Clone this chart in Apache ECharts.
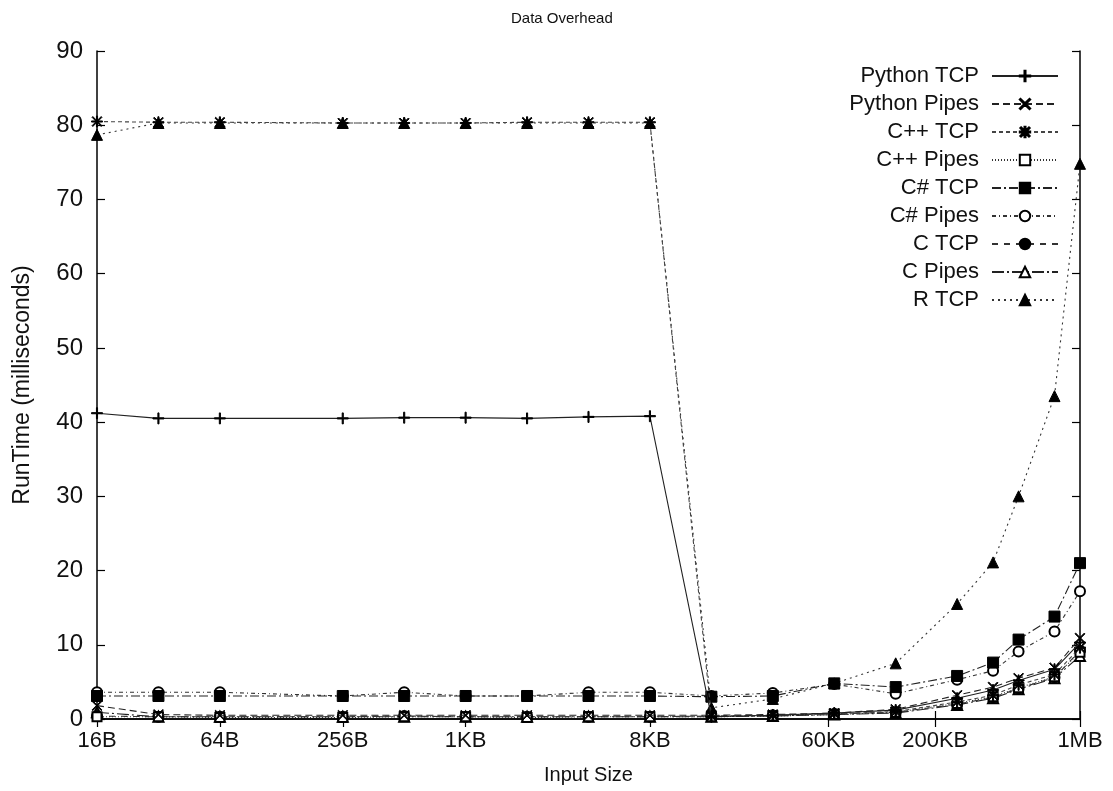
<!DOCTYPE html>
<html>
<head>
<meta charset="utf-8">
<script src="https://cdn.jsdelivr.net/npm/echarts@6/dist/echarts.min.js"></script>
<style>
html,body{margin:0;padding:0;background:#fff;}
#chart{width:1113px;height:791px;}
</style>
</head>
<body>
<div id="chart"></div>
<script>
// Input sizes in bytes (x axis, log base 2)
const sizes = [16, 32, 64, 256, 512, 1024, 2048, 4096, 8192, 16384, 32768, 65536, 131072, 262144, 393216, 524288, 786432, 1048576];
// Tick positions and labels on the x axis
const tickValues = [16, 64, 256, 1024, 8192, 61440, 204800, 1048576];
const tickLabels = ['16B', '64B', '256B', '1KB', '8KB', '60KB', '200KB', '1MB'];

const seriesNames = ['Python TCP', 'Python Pipes', 'C++ TCP', 'C++ Pipes', 'C# TCP', 'C# Pipes', 'C TCP', 'C Pipes', 'R TCP'];

const pythonTcp   = [41.2, 40.5, 40.5, 40.5, 40.6, 40.6, 40.5, 40.7, 40.8, 0.3, 0.5, 0.8, 1.2, 2.8, 3.9, 5.2, 6.7, 10.3];
const pythonPipes = [1.8, 0.6, 0.5, 0.5, 0.5, 0.5, 0.5, 0.5, 0.5, 0.5, 0.6, 0.8, 1.3, 3.2, 4.3, 5.5, 6.9, 10.9];
const cppTcp      = [80.5, 80.4, 80.4, 80.3, 80.3, 80.3, 80.4, 80.4, 80.4, 0.4, 0.5, 0.7, 1.0, 2.3, 3.2, 4.6, 6.0, 9.6];
const cppPipes    = [0.3, 0.3, 0.2, 0.2, 0.3, 0.3, 0.2, 0.3, 0.3, 0.3, 0.4, 0.6, 0.9, 2.1, 3.0, 4.2, 5.7, 9.0];
const csTcp       = [3.1, 3.1, 3.1, 3.1, 3.1, 3.1, 3.1, 3.1, 3.1, 3.0, 3.1, 4.8, 4.3, 5.8, 7.6, 10.7, 13.8, 21.0];
const csPipes     = [3.6, 3.6, 3.6, 3.1, 3.6, 3.1, 3.1, 3.6, 3.6, 3.1, 3.5, 4.7, 3.4, 5.3, 6.5, 9.1, 11.8, 17.2];
const cTcp        = [0.4, 0.3, 0.3, 0.3, 0.4, 0.3, 0.3, 0.3, 0.3, 0.4, 0.5, 0.7, 0.9, 2.0, 2.9, 4.1, 5.6, 9.2];
const cPipes      = [0.9, 0.3, 0.3, 0.3, 0.3, 0.3, 0.3, 0.3, 0.3, 0.3, 0.4, 0.6, 0.8, 1.9, 2.8, 4.0, 5.5, 8.5];
const rTcp        = [78.7, 80.3, 80.3, 80.3, 80.3, 80.3, 80.3, 80.3, 80.3, 1.5, 2.7, 4.8, 7.5, 15.5, 21.1, 30.0, 43.5, 74.8];

const allValues = [pythonTcp, pythonPipes, cppTcp, cppPipes, csTcp, csPipes, cTcp, cPipes, rTcp];

const PLUS = 'path://M4.5,0H5.5V4.5H10V5.5H5.5V10H4.5V5.5H0V4.5H4.5Z';
const CROSS = 'path://M0,0.7L0.7,0L5,4.3L9.3,0L10,0.7L5.7,5L10,9.3L9.3,10L5,5.7L0.7,10L0,9.3L4.3,5Z';
const STAR = 'path://M4.5,0H5.5V4.5H10V5.5H5.5V10H4.5V5.5H0V4.5H4.5Z M1.2,0.5L5,4.3L8.8,0.5L9.5,1.2L5.7,5L9.5,8.8L8.8,9.5L5,5.7L1.2,9.5L0.5,8.8L4.3,5L0.5,1.2Z';

const symbols = [PLUS, CROSS, STAR, 'emptyRect', 'rect', 'emptyCircle', 'circle', 'emptyTriangle', 'triangle'];
const symbolSizes = [11, 10, 11, 9, 11, 10, 11, 10, 11];
const dashes = ['solid', [7, 4], [4, 3], [1, 2], [9, 3, 2, 3], [4, 3, 1, 3], [6, 6], [12, 3, 2, 3], [2, 4]];
const lineColors = ['#222', '#222', '#444', '#333', '#222', '#333', '#333', '#222', '#333'];

const FONT = 'Liberation Sans, Arial, Helvetica, sans-serif';

function fmtX(v) {
  for (let i = 0; i < tickValues.length; i++) {
    if (Math.abs(v - tickValues[i]) / tickValues[i] < 1e-6) return tickLabels[i];
  }
  return '';
}

const series = seriesNames.map((name, i) => ({
  name: name,
  type: 'line',
  data: sizes.map((s, j) => [s, allValues[i][j]]),
  symbol: symbols[i],
  symbolSize: symbolSizes[i],
  showAllSymbol: true,
  lineStyle: { color: lineColors[i], width: 1.1, type: dashes[i] },
  itemStyle: { color: '#000', borderColor: '#000', borderWidth: 1 },
  emphasis: { disabled: true },
  animation: false,
  z: 10 - i
}));

const chart = echarts.init(document.getElementById('chart'), null, { renderer: 'canvas' });

const xCommon = {
  type: 'log',
  logBase: 2,
  min: 16,
  max: 1048576,
  splitLine: { show: false },
  minorTick: { show: false },
  axisLine: { show: true, lineStyle: { color: '#000', width: 1.5 } }
};

chart.setOption({
  animation: false,
  backgroundColor: '#fff',
  title: {
    text: 'Data Overhead',
    left: 506,
    top: 6,
    textStyle: { fontFamily: FONT, fontSize: 15, fontWeight: 'normal', color: '#111' }
  },
  grid: { left: 97, right: 33, top: 51, bottom: 72, containLabel: false, outerBoundsMode: 'none' },
  legend: {
    data: seriesNames,
    orient: 'vertical',
    right: 49,
    top: 60,
    align: 'right',
    itemWidth: 66,
    itemHeight: 13,
    itemGap: 6,
    textStyle: { fontFamily: FONT, fontSize: 22, color: '#111', lineHeight: 20, padding: [0, 8, 0, 0] }
  },
  xAxis: [
    Object.assign({}, xCommon, {
      position: 'bottom',
      name: 'Input Size',
      nameLocation: 'middle',
      nameGap: 46,
      nameTextStyle: { fontFamily: FONT, fontSize: 20, color: '#111' },
      axisTick: { show: true, inside: true, length: 8, customValues: tickValues, lineStyle: { color: '#000', width: 1.2 } },
      axisLabel: { show: true, customValues: tickValues, formatter: fmtX, margin: 11, fontFamily: FONT, fontSize: 22, color: '#111' }
    }),
    Object.assign({}, xCommon, {
      position: 'top',
      axisTick: { show: true, inside: true, length: 8, customValues: tickValues, lineStyle: { color: '#000', width: 1.2 } },
      axisLabel: { show: false }
    })
  ],
  yAxis: [
    {
      type: 'value',
      position: 'left',
      min: 0,
      max: 90,
      interval: 10,
      name: 'RunTime (milliseconds)',
      nameLocation: 'middle',
      nameGap: 63,
      nameTextStyle: { fontFamily: FONT, fontSize: 23, color: '#111' },
      splitLine: { show: false },
      axisLine: { show: true, lineStyle: { color: '#000', width: 1.5 } },
      axisTick: { show: true, inside: true, length: 8, lineStyle: { color: '#000', width: 1.2 } },
      axisLabel: { margin: 14, fontFamily: FONT, fontSize: 24, color: '#111' }
    },
    {
      type: 'value',
      position: 'right',
      min: 0,
      max: 90,
      interval: 10,
      splitLine: { show: false },
      axisLine: { show: true, lineStyle: { color: '#000', width: 1.5 } },
      axisTick: { show: true, inside: true, length: 8, lineStyle: { color: '#000', width: 1.2 } },
      axisLabel: { show: false }
    }
  ],
  series: series
});
</script>
</body>
</html>
